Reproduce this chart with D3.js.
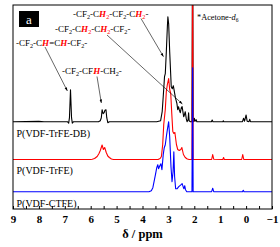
<!DOCTYPE html>
<html><head><meta charset="utf-8">
<script src="https://cdn.jsdelivr.net/npm/d3@7"></script>
<style>body{margin:0;background:#fff}svg{display:block}text{font-family:"Liberation Serif","Times New Roman",serif}</style>
</head><body><svg id="c" width="280" height="247"></svg>
<script>
// ---- data ----
const xTicks = [9,8,7,6,5,4,3,2,1,0,-1];
const xMinorTicks = [8.5,7.5,6.5,5.5,4.5,3.5,2.5,1.5,0.5,-0.5];
const seriesNames = ["P(VDF-TrFE-DB)","P(VDF-TrFE)","P(VDF-CTFE)"];
const seriesColors = ["#000000","#ff0000","#0000ff"];
const seriesOffsets = [87.3, 49.5, 17.3];
const specDB = [[9,0],[8.0,0.3],[7.8,0],[7.0,0],[6.9,0],[6.85,-1.5],[6.82,4],[6.8,18],[6.78,32],[6.76,18],[6.74,4],[6.71,-1.5],[6.66,0],
 [5.7,0],[5.63,1],[5.59,4],[5.56,12],[5.52,8],[5.48,9],[5.45,11.5],[5.41,12],[5.38,4],[5.34,-1],[5.28,0],
 [3.45,0],[3.3,1],[3.24,10],[3.2,25],[3.15,45],[3.12,48],[3.08,70],[3.04,95],[3.02,105],[2.99,98],[2.95,70],[2.89,35],[2.85,33],[2.81,36],[2.77,30],[2.73,24],[2.67,18],[2.64,12],[2.61,15],[2.58,12],[2.54,9],[2.5,14],[2.47,15],[2.41,5],[2.38,7],[2.35,10],[2.31,3],[2.28,0],[2.24,2],[2.22,9],[2.2,1],[2.15,0],[2.09,0],[2.065,200],[2.045,0],[2.02,0],[2.0,3.5],[1.97,0.5],[1.93,2],[1.9,0],
 [1.34,0],[1.31,1.7],[1.28,0],[0.9,0],[0.88,1],[0.86,0],[0.14,0],[0.1,3.4],[0.06,0.5],[0.0,6.7],[-0.04,0.5],[-0.11,0],[-0.14,2.4],[-0.17,0],[-1,0]];
const specTrFE = [[9,0],[6.0,0],[5.94,0.3],[5.85,1],[5.75,3],[5.68,6],[5.63,9],[5.56,14.5],[5.51,10],[5.46,12],[5.4,7],[5.34,3.5],[5.28,2],[5.2,0.5],[5.12,0],
 [3.4,0],[3.32,1],[3.27,3],[3.22,15],[3.18,35],[3.12,50],[3.08,68],[3.04,75],[2.99,81],[2.95,70],[2.91,66],[2.87,46],[2.83,28],[2.79,26],[2.75,27],[2.69,15],[2.64,10],[2.58,9],[2.52,10],[2.48,12],[2.42,5],[2.35,2],[2.27,0.5],[2.2,0],[2.09,0],[2.065,200],[2.045,0],
 [1.33,0],[1.29,5],[1.25,0.3],[0.9,0],[0.87,2],[0.84,0],[0.17,0],[0.13,5],[0.09,0],[-1,0]];
const specCTFE = [[9,0],[3.75,0],[3.66,1],[3.6,4],[3.5,17],[3.45,24],[3.41,27],[3.38,23],[3.33,26],[3.29,28],[3.25,22],[3.2,37],[3.16,44],[3.12,47],[3.08,55],[3.04,62],[2.99,70],[2.95,55],[2.9,25],[2.86,10],[2.82,20],[2.79,40],[2.76,15],[2.72,3],[2.66,3],[2.6,5],[2.53,6.5],[2.47,8],[2.42,4],[2.4,3],[2.37,6],[2.34,2],[2.29,0],[2.09,0],[2.065,124],[2.045,0],
 [1.33,0],[1.29,3.5],[1.25,0],[0.14,0],[0.11,1.5],[0.08,0],[-1,0]];
const spectra = [specDB, specTrFE, specCTFE];
// annotation texts: segments [text, kind] kind: n normal, s subscript, h red italic H, hs red subscript
const annotTexts = [
 [["-CF","n"],["2","s"],["-C","n"],["H","h"],["2","hs"],["-CF","n"],["2","s"],["-C","n"],["H","h"],["2","hs"],["-","n"]],
 [["-CF","n"],["2","s"],["-C","n"],["H","h"],["2","hs"],["-C","n"],["H","h"],["2","hs"],["-CF","n"],["2","s"],["-","n"]],
 [["-CF","n"],["2","s"],["-C","n"],["H","h"],["=C","n"],["H","h"],["-CF","n"],["2","s"],["-","n"]],
 [["-CF","n"],["2","s"],["-CF","n"],["H","h"],["-CH","n"],["2","s"],["-","n"]]
];
const annotTips = [[3.19,152.3],[2.46,105],[6.9,118],[5.59,106]]; // ppm, value
const acetoneLabel = "Acetone-";
const xLabel = "\u03b4 / ppm";
const panelLabel = "a";

// ---- layout ----
const svg = d3.select("#c");
const L=13, R=272, T=5, B=209;
const x = d3.scaleLinear().domain([9,-1]).range([L,R]);
const y = d3.scaleLinear().domain([0,204]).range([B,T]);

svg.append("defs").append("clipPath").attr("id","clip").append("rect")
  .attr("x",L).attr("y",T).attr("width",R-L).attr("height",B-T);
const defs = svg.select("defs");
defs.append("marker").attr("id","arr").attr("viewBox","0 0 10 10").attr("refX",10).attr("refY",5)
  .attr("markerWidth",6).attr("markerHeight",6).attr("orient","auto-start-reverse")
  .append("path").attr("d","M0,1.5L10,5L0,8.5z").attr("fill","#000");

const g = svg.append("g").attr("clip-path","url(#clip)");
spectra.forEach((s,i)=>{
  const line = d3.line().x(d=>x(d[0])).y(d=>y(d[1]+seriesOffsets[i]));
  g.append("path").datum(s).attr("d",line).attr("fill","none")
   .attr("stroke",seriesColors[i]).attr("stroke-width",1.1).attr("stroke-linejoin","round");
});

// frame
svg.append("rect").attr("x",L).attr("y",T).attr("width",R-L).attr("height",B-T)
  .attr("fill","none").attr("stroke","#000").attr("stroke-width",1);

// axis
const ax = svg.append("g").attr("transform",`translate(0,${B})`)
  .call(d3.axisBottom(x).tickValues(xTicks).tickSize(-3).tickPadding(7).tickFormat(d3.format("d")));
ax.select(".domain").remove();
ax.selectAll("text").attr("font-size",11).attr("font-weight","bold").attr("font-family","Liberation Serif").attr("dy","0.75em").attr("y",5.5);
const axm = svg.append("g").attr("transform",`translate(0,${B})`)
  .call(d3.axisBottom(x).tickValues(xMinorTicks).tickSize(-3).tickFormat(""));
axm.select(".domain").remove();
svg.append("text").attr("x",(L+R)/2).attr("y",237.5).attr("text-anchor","middle")
  .attr("font-size",12.5).attr("font-weight","bold").text(xLabel);

// series labels
seriesNames.forEach((n,i)=>{
  svg.append("text").attr("x",16.5).attr("y",y(seriesOffsets[i])+14.8)
    .attr("font-size",10).text(n);
});

// panel label
svg.append("rect").attr("x",19).attr("y",11).attr("width",20).attr("height",16).attr("fill","#000");
svg.append("text").attr("x",29).attr("y",23.5).attr("text-anchor","middle").attr("fill","#fff")
  .attr("font-size",13).text(panelLabel);

// acetone label
const at = svg.append("text").attr("x",197).attr("y",20).attr("font-size",8.3);
at.append("tspan").text("*"+acetoneLabel);
at.append("tspan").attr("font-style","italic").text("d");
at.append("tspan").attr("font-size",5.5).attr("dy",1.8).text("6");

// annotations
const annotPos = [[73,17.3],[55,31.5],[16,46],[62,74]];
const arrowStarts = [[141,18.5],[107,35],[45,47],[97,76.5]];
annotTexts.forEach((segs,i)=>{
  const t = svg.append("text").attr("x",annotPos[i][0]).attr("y",annotPos[i][1]).attr("font-size",9);
  let shifted=false;
  segs.forEach(([s,k])=>{
    const ts = t.append("tspan").text(s);
    const sub = (k==="s"||k==="hs");
    if(sub){ ts.attr("font-size",6.2); if(!shifted){ts.attr("dy",2);shifted=true;} }
    else if(shifted){ ts.attr("dy",-2); shifted=false; }
    if(k==="h"||k==="hs") ts.attr("fill","#ff0000");
    if(k==="h") ts.attr("font-style","italic").attr("font-weight","bold");
  });
  svg.append("line").attr("x1",arrowStarts[i][0]).attr("y1",arrowStarts[i][1])
    .attr("x2",x(annotTips[i][0])).attr("y2",y(annotTips[i][1]))
    .attr("stroke","#000").attr("stroke-width",0.6).attr("marker-end","url(#arr)");
});
</script></body></html>
